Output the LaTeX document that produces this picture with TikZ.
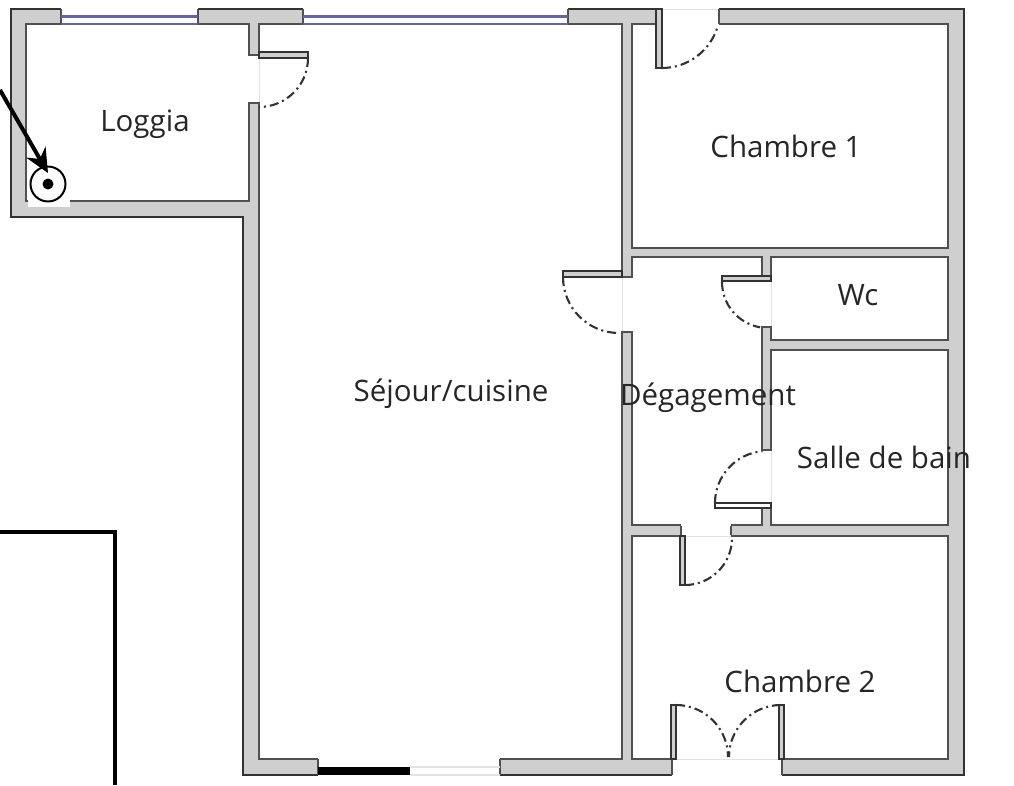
\documentclass[tikz,border=0pt]{standalone}
\usepackage{fontspec}
\setmainfont{Open Sans}
\usepackage{xcolor}
\usetikzlibrary{arrows.meta}
\definecolor{wallfill}{HTML}{CFCFCF}
\definecolor{wallline}{HTML}{505050}
\definecolor{faint}{HTML}{E2E2E2}
\definecolor{glass}{HTML}{6262A8}
\tikzset{
  wall/.style={fill=wallfill, draw=black!80, line width=1.5pt, line join=miter},
  room/.style={fill=white, draw=wallline, line width=2.6pt},
  edge/.style={draw=wallline, line width=2.2pt},
  leaf/.style={fill=wallfill, draw=black!80, line width=1.6pt},
  swing/.style={draw=black!80, line width=2.1pt, dash pattern=on 9pt off 4pt on 2pt off 4pt},
  lab/.style={text=black!85, font=\fontsize{29.5}{34}\selectfont, inner sep=0pt},
}

\begin{document}
\begin{tikzpicture}[x=1pt,y=-1pt]
  \useasboundingbox (0,0) rectangle (1014,785);
  \fill[white] (0,0) rectangle (1014,785);
  % outer shell and rooms
  \draw[wall] (11,9) -- (964,9) -- (964,775) -- (243,775) -- (243,217) -- (11,217) -- cycle;
  \foreach \xa/\ya/\xb/\yb in {26/24/249/201, 259/24/622/759, 632/24/948/248, 632/257/762/525,
      771/257/948/340, 771/350/948/525, 632/536/948/759}
    \draw[room] (\xa,\ya) rectangle (\xb,\yb);
  % openings in the vertical walls
  \foreach \xa/\ya/\xb/\yb/\xf in {248/55/260/103/259, 621/277/633/332/622, 761/279/772/327/771, 761/450/772/505/771} {
    \fill[white] (\xa,\ya) rectangle (\xb,\yb);
    \draw[faint, line width=1pt] (\xf,\ya) -- (\xf,\yb);
    \draw[edge] (\xa,\ya) -- (\xb,\ya) (\xa,\yb) -- (\xb,\yb);
  }
  % openings in the horizontal walls
  \foreach \xa/\ya/\xb/\yb/\yf in {659/7/719/26/9, 681/524/731/537/536, 672/757/782/777/759} {
    \fill[white] (\xa,\ya) rectangle (\xb,\yb);
    \draw[faint, line width=1pt] (\xa,\yf) -- (\xb,\yf);
    \draw[edge] (\xa,\ya+2) -- (\xa,\yb-2) (\xb,\ya+2) -- (\xb,\yb-2);
  }
  % windows
  \foreach \xa/\xb in {61/198, 303/568} {
    \fill[white] (\xa,7) rectangle (\xb,26);
    \draw[edge] (\xa,9) -- (\xa,24) (\xb,9) -- (\xb,24);
    \draw[glass, line width=2.2pt] (\xa,16.5) -- (\xb,16.5) (\xa,24) -- (\xb,24);
  }
  \fill[white] (318,757) rectangle (500,777);
  \draw[edge] (318,759) -- (318,775) (500,759) -- (500,775);
  \fill[black] (318,767) rectangle (410,775);
  \draw[faint, line width=1.4pt] (410,767) -- (500,767) (410,775) -- (500,775);
  % door leaves
  \foreach \xa/\ya/\xb/\yb in {259/52/308/58, 563/271/622/277, 722/276/771/281, 656/9/662/68,
      680/536/685/585, 671/705/676/759, 779/705/784/759}
    \draw[leaf] (\xa,\ya) rectangle (\xb,\yb);
  \draw[leaf, fill=white] (715,503) rectangle (771,508);
  % door swings
  \draw[swing] (308,58) arc[start angle=0, end angle=90, radius=49];
  \draw[swing] (662,68) arc[start angle=90, end angle=15, radius=58];
  \draw[swing] (563,277) arc[start angle=180, end angle=90, radius=56];
  \draw[swing] (722,282) arc[start angle=180, end angle=100, radius=46];
  \draw[swing] (715,503) arc[start angle=180, end angle=265, radius=52];
  \draw[swing] (685,585) arc[start angle=90, end angle=0, radius=47];
  \draw[swing] (676,705) arc[start angle=270, end angle=360, radius=52];
  \draw[swing] (781,705) arc[start angle=270, end angle=180, radius=52];
  % corner with the meter
  \fill[white] (28,196) rectangle (70,207);
  \draw[edge] (26,165) -- (26,200);
  \node[circle, draw=black, line width=2pt, fill=white, minimum size=35pt, inner sep=0pt] (meter) at (48,184) {};
  \node[circle, fill=black, minimum size=11pt, inner sep=0pt] (meterdot) at (meter) {};
  \coordinate (arrowstart) at (0,90);
  \coordinate (arrowtip) at (48,173);
  \draw[-{Stealth[length=24pt,width=22pt]}, line width=4pt] (arrowstart) -- (arrowtip);
  % neighbouring building
  \coordinate (outa) at (0,532);
  \coordinate (outb) at (115,532);
  \coordinate (outc) at (115,785);
  \draw[black, line width=3.2pt] (outa) -- (outb) -- (outc);
  % room names
  \node[lab] (loggia) at (145,124) {Loggia};
  \node[lab] (chambrea) at (786,146) {Chambre 1};
  \node[lab] (wc) at (858,295) {Wc};
  \node[lab] (sejour) at (451,394) {Séjour/cuisine};
  \node[lab] (degagement) at (708,398) {Dégagement};
  \node[lab] (bain) at (884,457) {Salle de bain};
  \node[lab] (chambreb) at (800,681) {Chambre 2};
\end{tikzpicture}
\end{document}
